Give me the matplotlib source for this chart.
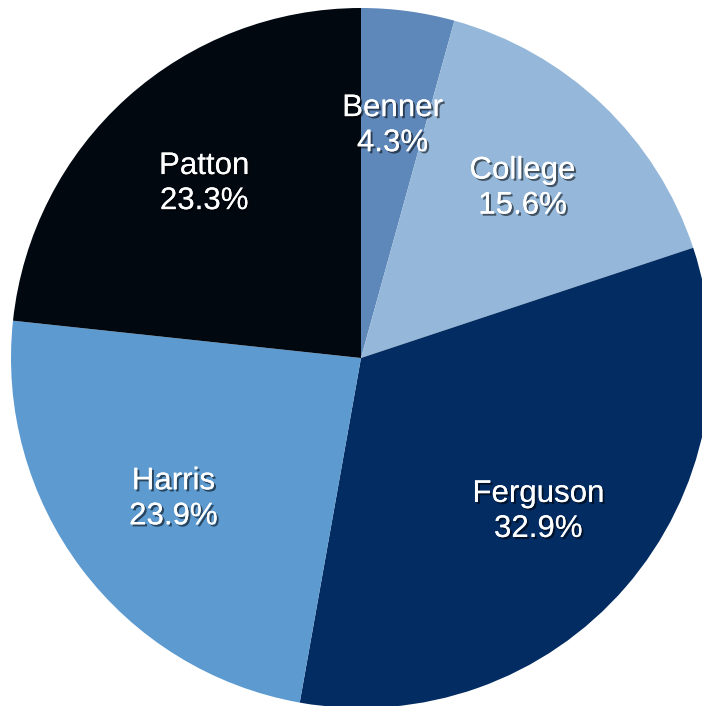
import matplotlib.pyplot as plt
import matplotlib.patheffects as pe

# share of each school (percent)
schools = ['Benner', 'College', 'Ferguson', 'Harris', 'Patton']
shares = [4.3, 15.6, 32.9, 23.9, 23.3]
colors = ['#5f88ba', '#95b8da', '#022c62', '#5c9ad0', '#020810']

plt.rcParams['font.family'] = ['Liberation Sans', 'DejaVu Sans']

fig = plt.figure(figsize=(7.02, 7.06), dpi=100)
# pie centre ~ (361, 358) px, radius ~350 px
ax = fig.add_axes([11/702, -2/706, 700/702, 700/706])

labels = ['%s\n%.1f%%' % (s, v) for s, v in zip(schools, shares)]
wedges, texts = ax.pie(shares, colors=colors, labels=labels, startangle=90,
                       counterclock=False, labeldistance=0.67, radius=1,
                       wedgeprops=dict(linewidth=0))

shadow = [pe.withSimplePatchShadow(offset=(1.5, -1.5), shadow_rgbFace='black', alpha=0.55),
          pe.Normal()]
for t in texts:
    t.set_ha('center')
    t.set_va('center')
    t.set_multialignment('center')
    t.set_color('white')
    t.set_fontsize(22.5)
    t.set_linespacing(1.22)
    t.set_path_effects(shadow)

ax.set_xlim(-1, 1)
ax.set_ylim(-1, 1)
ax.set_aspect('equal')
ax.axis('off')

fig.savefig('out.png', dpi=100)
